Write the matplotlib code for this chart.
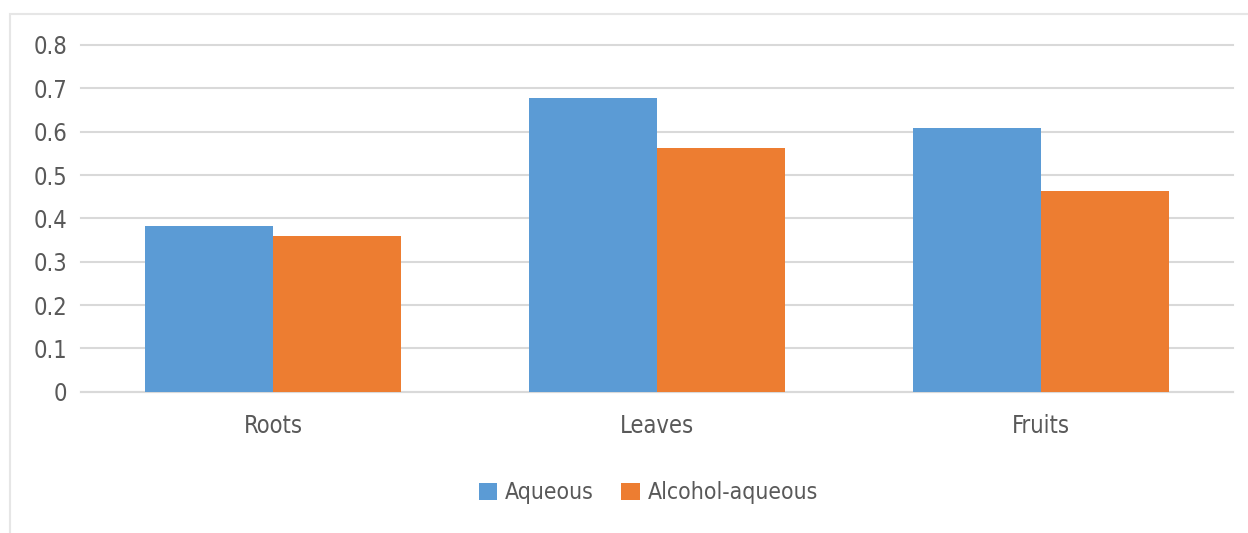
import matplotlib.pyplot as plt
from matplotlib.patches import Rectangle
import numpy as np

plt.rcParams['font.family'] = ['DejaVu Sans']
plt.rcParams['font.stretch'] = 'condensed'

categories = ['Roots', 'Leaves', 'Fruits']
aqueous = [0.383, 0.678, 0.609]
alcohol_aqueous = [0.359, 0.562, 0.464]
yticks = [0, 0.1, 0.2, 0.3, 0.4, 0.5, 0.6, 0.7, 0.8]
ytick_labels = ['0', '0.1', '0.2', '0.3', '0.4', '0.5', '0.6', '0.7', '0.8']

blue = '#5b9bd5'
orange = '#ed7d31'
grid_col = '#d9d9d9'
text_col = '#595959'

fig = plt.figure(figsize=(12.48, 5.33), dpi=100)
ax = fig.add_axes([81 / 1248, 141.3 / 533, (1232.7 - 81) / 1248, 346.7 / 533])

# chart area border (only top and left edges fall inside the image)
fig.patches.append(Rectangle((10 / 1248, -0.1), 1.2, (533 - 14) / 533 + 0.1,
                             transform=fig.transFigure, fill=False,
                             edgecolor='#e6e6e6', linewidth=1.5))

x = np.arange(len(categories))
w = 1 / 3
ax.bar(x - w / 2, aqueous, w, color=blue, label='Aqueous', zorder=3)
ax.bar(x + w / 2, alcohol_aqueous, w, color=orange, label='Alcohol-aqueous', zorder=3)

ax.set_xlim(-0.5, 2.5)
ax.set_ylim(0, 0.8)
ax.set_yticks(yticks)
ax.set_yticklabels(ytick_labels)
ax.set_xticks(x)
ax.set_xticklabels(categories)
ax.yaxis.grid(True, color=grid_col, linewidth=1.5, zorder=0)
for gl in ax.get_ygridlines():
    gl.set_clip_on(False)
ax.set_axisbelow(True)
for s in ['top', 'right', 'left']:
    ax.spines[s].set_visible(False)
ax.spines['bottom'].set_color(grid_col)
ax.spines['bottom'].set_linewidth(1.5)
ax.tick_params(axis='both', length=0, labelsize=17, colors=text_col)
ax.tick_params(axis='y', pad=10)
ax.tick_params(axis='x', pad=16)

fig.legend(loc='center', bbox_to_anchor=(0.5196, (533 - 493) / 533), ncol=2,
           frameon=False, fontsize=16.5, labelcolor=text_col,
           handlelength=0.8, handleheight=0.8, handletextpad=0.35,
           columnspacing=1.2)

fig.savefig('out.png', dpi=100, facecolor='white')
